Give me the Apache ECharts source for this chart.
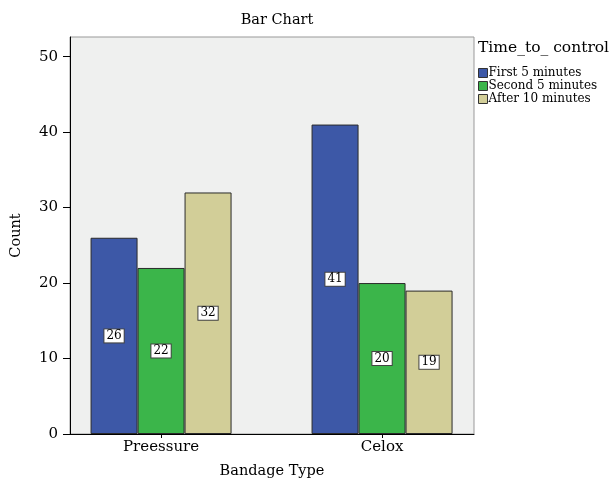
<!DOCTYPE html>
<html><head><meta charset="utf-8">
<script src="https://cdn.jsdelivr.net/npm/echarts@6/dist/echarts.min.js"></script>
<style>html,body{margin:0;padding:0;background:#fff}#c{width:614px;height:484px}</style>
</head><body><div id="c"></div>
<script>
const categories = ['Preessure', 'Celox'];
const seriesNames = ['First 5 minutes', 'Second 5 minutes', 'After 10 minutes'];
const first5 = [26, 41];
const second5 = [22, 20];
const after10 = [32, 19];
const yTicks = [0, 10, 20, 30, 40, 50];
const colors = ['#3d58a7', '#3bb54a', '#d2ce98'];
const FONT = 'DejaVu Serif';

const values = [first5, second5, after10];
const chart = echarts.init(document.getElementById('c'));
chart.setOption({
  animation: false,
  textStyle: { fontFamily: FONT, color: '#000' },
  title: [
    { text: 'Bar Chart', left: 272, top: 8, textAlign: 'center',
      textStyle: { fontFamily: FONT, fontSize: 14.5, fontWeight: 'normal', color: '#000' } },
    { text: 'Time_to_ control', left: 473, top: 35,
      textStyle: { fontFamily: FONT, fontSize: 15.5, fontWeight: 'normal', color: '#000' } }
  ],
  legend: {
    orient: 'vertical', left: 473, top: 62, icon: 'rect',
    itemWidth: 9, itemHeight: 9, itemGap: 1,
    textStyle: { fontFamily: FONT, fontSize: 12, color: '#000', padding: [0, 0, 0, -4] },
    itemStyle: { borderColor: '#333', borderWidth: 1 },
    data: seriesNames
  },
  grid: { left: 70, right: 140, top: 37, bottom: 50, show: true,
    backgroundColor: '#eff0ef', borderColor: '#999', borderWidth: 1 },
  xAxis: {
    type: 'value', min: -0.412, max: 1.416,
    name: 'Bandage Type', nameLocation: 'middle', nameGap: 30,
    nameTextStyle: { fontFamily: FONT, fontSize: 14.5, color: '#000' },
    axisLine: { show: true, onZero: false, lineStyle: { color: '#000', width: 1 } },
    axisTick: { show: true, length: 4, customValues: [0, 1], lineStyle: { color: '#000' } },
    axisLabel: { customValues: [0, 1], formatter: v => categories[Math.round(v)],
      fontFamily: FONT, fontSize: 15, color: '#000', margin: 6 },
    splitLine: { show: false }
  },
  yAxis: {
    type: 'value', min: 0, max: 52.6,
    name: 'Count', nameLocation: 'middle', nameGap: 46,
    nameTextStyle: { fontFamily: FONT, fontSize: 14.5, color: '#000' },
    axisLine: { show: true, onZero: false, lineStyle: { color: '#000', width: 1 } },
    axisTick: { show: true, length: 7, customValues: yTicks, lineStyle: { color: '#000' } },
    axisLabel: { customValues: yTicks, fontFamily: FONT, fontSize: 15, color: '#000', margin: 12 },
    splitLine: { show: false }
  },
  series: seriesNames.map((n, i) => ({
    name: n, type: 'bar', barWidth: 47, barGap: '0%',
    data: values[i].map((v, j) => [j, v]),
    itemStyle: { color: colors[i], borderColor: '#2a2a2a', borderWidth: 1 },
    label: { show: true, position: 'inside', formatter: p => p.value[1],
      fontFamily: FONT, fontSize: 12, color: '#000', backgroundColor: '#fff',
      borderColor: '#444', borderWidth: 1, padding: [1, 2, 0, 2] }
  }))
});
</script></body></html>
